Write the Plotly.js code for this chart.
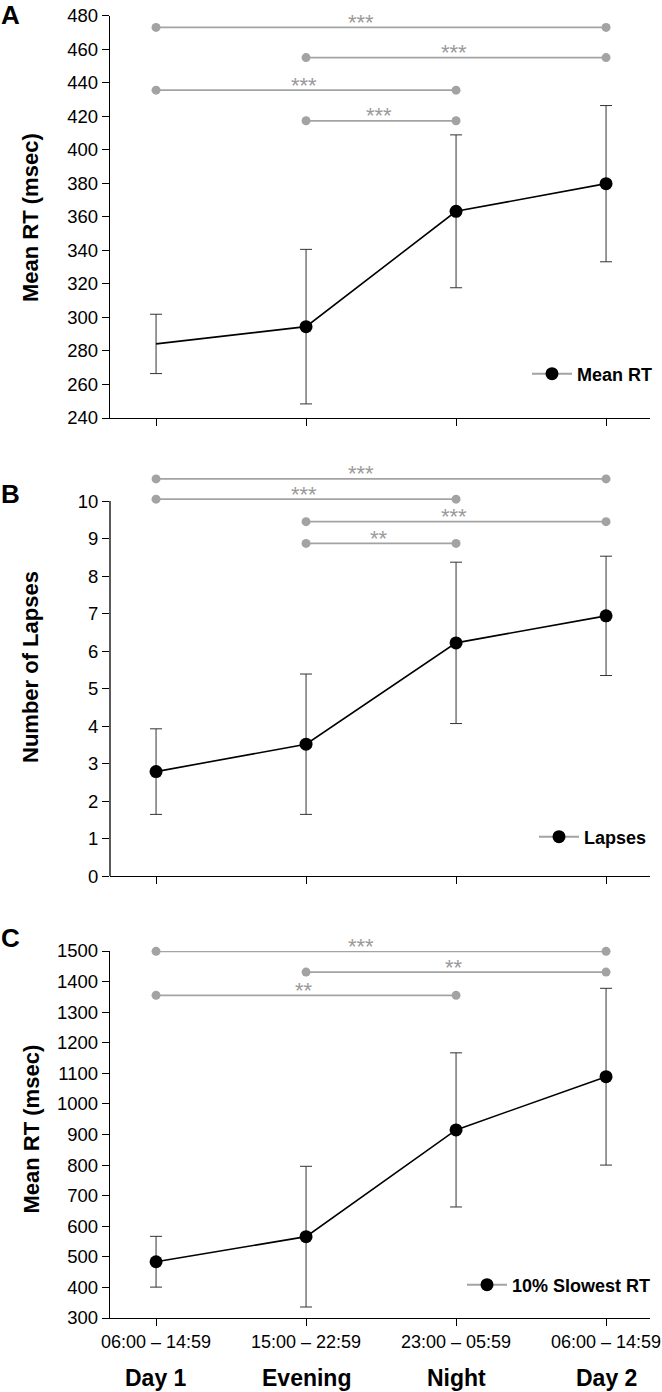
<!DOCTYPE html>
<html>
<head>
<meta charset="utf-8">
<script src="https://cdn.plot.ly/plotly-3.0.1.min.js"></script>
<style>html,body{margin:0;padding:0;background:#fff;}#chart{width:662px;height:1392px;}</style>
</head>
<body>
<div id="chart"></div>
<script>
// ---------- data ----------
const xIdx = [0, 1, 2, 3];
const timeLabels = ["06:00 \u2013 14:59", "15:00 \u2013 22:59", "23:00 \u2013 05:59", "06:00 \u2013 14:59"];
const periodLabels = ["Day 1", "Evening", "Night", "Day 2"];

const meanRT = [284.2, 294.5, 363.3, 379.8];
const meanRTSd = [17.7, 46.1, 45.6, 46.6];

const lapses = [2.79, 3.52, 6.22, 6.94];
const lapsesSd = [1.14, 1.87, 2.15, 1.59];

const slowRT = [484, 566, 915, 1089];
const slowRTSd = [83, 230, 252, 289];

const sigAFrom = [0, 1, 0, 1];
const sigATo = [3, 3, 2, 2];
const sigAY = [473, 455, 435.6, 417.3];
const sigALabel = ["***", "***", "***", "***"];

const sigBFrom = [0, 0, 1, 1];
const sigBTo = [3, 2, 3, 2];
const sigBY = [10.59, 10.05, 9.45, 8.87];
const sigBLabel = ["***", "***", "***", "**"];

const sigCFrom = [0, 1, 0];
const sigCTo = [3, 3, 2];
const sigCY = [1499, 1431, 1355];
const sigCLabel = ["***", "**", "**"];

const seriesNames = ["Mean RT", "Lapses", "10% Slowest RT"];
const yTitles = ["Mean RT (msec)", "Number of Lapses", "Mean RT (msec)"];
const panelLetters = ["A", "B", "C"];

// ---------- style ----------
const SANS = "'Liberation Sans', Arial, sans-serif";
const GREY = "#a3a3a3";
const H = 1318; // plot area height in px (margin t=0, b=74)
const py = p => (H - p) / H;
const px = p => (p - 110) / 540;

const traces = [];
const annotations = [];
const shapes = [];

function addPanel(k, vals, sd, from, to, sy, lab, markerSizes) {
  const xa = k === 0 ? "x" : "x" + (k + 1);
  const ya = k === 0 ? "y" : "y" + (k + 1);
  // significance brackets
  for (let i = 0; i < from.length; i++) {
    traces.push({
      x: [from[i], to[i]], y: [sy[i], sy[i]], xaxis: xa, yaxis: ya,
      mode: "lines+markers", showlegend: false, hoverinfo: "skip", cliponaxis: false,
      line: {color: GREY, width: 1.8}, marker: {color: GREY, size: 9, opacity: 1}
    });
    const span = to[i] - from[i];
    annotations.push({
      x: (from[i] + to[i]) / 2, y: sy[i], xref: xa, yref: ya,
      text: lab[i], showarrow: false, xanchor: "center", yanchor: "middle",
      yshift: 5, xshift: span === 3 ? -20 : -2,
      font: {family: SANS, size: 22, color: "#9a9a9a"}
    });
  }
  // error bars (drawn beneath the markers)
  traces.push({
    x: xIdx, y: vals, xaxis: xa, yaxis: ya, mode: "markers",
    showlegend: false, hoverinfo: "skip", cliponaxis: false,
    marker: {size: 1, color: "rgba(0,0,0,0)"},
    error_y: {type: "data", array: sd, visible: true, color: "#333", thickness: 1, width: 6}
  });
  // data
  traces.push({
    x: xIdx, y: vals, xaxis: xa, yaxis: ya, mode: "lines+markers",
    showlegend: false, cliponaxis: false,
    line: {color: "#000", width: 1.6},
    marker: {color: "#000", size: markerSizes, opacity: 1, line: {width: 0}}
  });
  // legend entry
  traces.push({
    x: [null], y: [null], xaxis: xa, yaxis: ya, mode: "lines+markers",
    name: "<b>" + seriesNames[k] + "</b>", showlegend: true,
    legend: k === 0 ? "legend" : "legend" + (k + 1),
    line: {color: GREY, width: 2}, marker: {color: "#000", size: 13, opacity: 1}
  });
}

addPanel(0, meanRT, meanRTSd, sigAFrom, sigATo, sigAY, sigALabel, [0, 13, 13, 13]);
addPanel(1, lapses, lapsesSd, sigBFrom, sigBTo, sigBY, sigBLabel, [13, 13, 13, 13]);
addPanel(2, slowRT, slowRTSd, sigCFrom, sigCTo, sigCY, sigCLabel, [13, 13, 13, 13]);

// axis line for B (only up to 10)
shapes.push({type: "line", xref: "x2 domain", yref: "y2", x0: 0, x1: 0, y0: 0, y1: 10,
  line: {color: "#000", width: 1.3}});

// y titles and panel letters
const titleY = [217.5, 667.5, 1129];
const letterY = [15, 494, 938];
for (let k = 0; k < 3; k++) {
  annotations.push({
    xref: "paper", yref: "paper", x: px(30.5), y: py(titleY[k]), textangle: -90,
    text: "<b>" + yTitles[k] + "</b>", showarrow: false, xanchor: "center", yanchor: "middle",
    font: {family: SANS, size: 22, color: "#000"}
  });
  annotations.push({
    xref: "paper", yref: "paper", x: px(10), y: py(letterY[k]),
    text: "<b>" + panelLetters[k] + "</b>", showarrow: false, xanchor: "center", yanchor: "middle",
    font: {family: SANS, size: 26, color: "#000"}
  });
}
// period labels under x axis of C
for (let i = 0; i < xIdx.length; i++) {
  annotations.push({
    xref: "x3", yref: "paper", x: xIdx[i], y: py(1378),
    text: "<b>" + periodLabels[i] + "</b>", showarrow: false, xanchor: "center", yanchor: "middle",
    font: {family: SANS, size: 23, color: "#000"}
  });
}

const xBase = {
  range: [-0.307, 3.293], tickvals: xIdx, showline: true, linecolor: "#000", linewidth: 1.3,
  ticks: "outside", ticklen: 7, tickcolor: "#000", tickwidth: 1.3, showgrid: false, zeroline: false,
  fixedrange: true
};
const yBase = {
  showline: true, linecolor: "#000", linewidth: 1.3, ticks: "outside", ticklen: 7,
  tickcolor: "#000", tickwidth: 1.3, showgrid: false, zeroline: false, fixedrange: true,
  tickfont: {family: SANS, size: 18.5, color: "#000"}
};
const legBase = {
  bgcolor: "rgba(0,0,0,0)", borderwidth: 0, xanchor: "right", yanchor: "middle",
  font: {family: SANS, size: 18, color: "#000"}, itemwidth: 40
};

const layout = {
  width: 662, height: 1392,
  margin: {l: 110, r: 12, t: 0, b: 74, autoexpand: false},
  paper_bgcolor: "#fff", plot_bgcolor: "#fff",
  font: {family: SANS, color: "#000"},
  xaxis: Object.assign({}, xBase, {anchor: "y", showticklabels: false}),
  xaxis2: Object.assign({}, xBase, {anchor: "y2", showticklabels: false}),
  xaxis3: Object.assign({}, xBase, {anchor: "y3", ticktext: timeLabels,
    tickfont: {family: SANS, size: 18, color: "#000"}}),
  yaxis: Object.assign({}, yBase, {anchor: "x", domain: [py(418), py(15.7)], range: [240, 480],
    tickmode: "linear", tick0: 240, dtick: 20}),
  yaxis2: Object.assign({}, yBase, {anchor: "x2", domain: [py(876.3), py(471)], range: [0, 10.8],
    showline: false, tickvals: [0,1,2,3,4,5,6,7,8,9,10]}),
  yaxis3: Object.assign({}, yBase, {anchor: "x3", domain: [py(1318), py(951)], range: [300, 1500],
    tickmode: "linear", tick0: 300, dtick: 100}),
  legend: Object.assign({}, legBase, {x: px(658), y: py(374)}),
  legend2: Object.assign({}, legBase, {x: px(652), y: py(837)}),
  legend3: Object.assign({}, legBase, {x: px(656), y: py(1285)}),
  annotations: annotations,
  shapes: shapes,
  showlegend: true
};

Plotly.newPlot("chart", traces, layout, {displayModeBar: false, responsive: false});
</script>
</body>
</html>
